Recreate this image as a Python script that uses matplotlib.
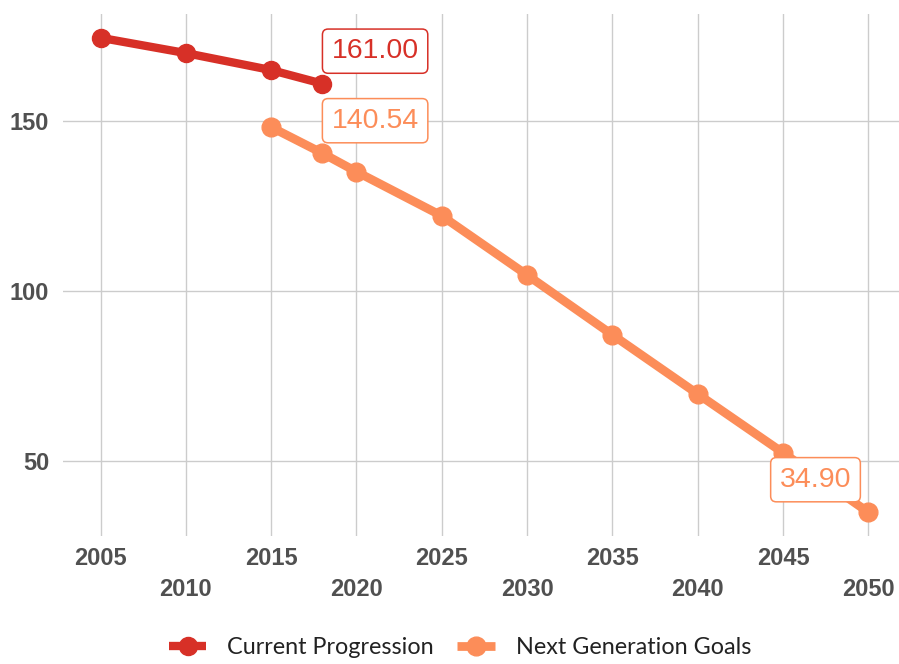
import matplotlib.pyplot as plt
from matplotlib.ticker import FixedLocator

# data
years_current = [2005, 2010, 2015, 2018]
current = [174.5, 170.0, 165.0, 161.00]
years_goals = [2015, 2018, 2020, 2025, 2030, 2035, 2040, 2045, 2050]
goals = [148.2, 140.54, 135.1, 122.1, 104.7, 87.1, 69.7, 52.4, 34.90]

upper_ticks = [2005, 2015, 2025, 2035, 2045]
lower_ticks = [2010, 2020, 2030, 2040, 2050]
y_ticks = [50, 100, 150]

red = "#d73027"
orange = "#fc8d59"

fig = plt.figure(figsize=(8.99, 6.64), dpi=100)
ax = fig.add_axes([63 / 899, 1 - 536 / 664, 1 - 63 / 899, (536 - 14) / 664])

ax.plot(years_goals, goals, color=orange, lw=6.3, marker="o", ms=13.5,
        solid_capstyle="butt", label="Next Generation Goals", zorder=3)
ax.plot(years_current, current, color=red, lw=6, marker="o", ms=13,
        solid_capstyle="butt", label="Current Progression", zorder=4)

# value boxes
def tag(x, y, dx, color):
    ax.annotate(f"{y:.2f}", (x, y), xytext=(dx, 23.4), textcoords="offset points",
                ha="center", va="center", fontsize=20.5, color=color,
                family="Liberation Sans", zorder=6,
                bbox=dict(boxstyle="round,pad=0.32,rounding_size=0.2",
                          fc="white", ec=color, lw=1.1))

tag(years_current[-1], current[-1], 38, red)
tag(years_goals[1], goals[1], 38, orange)
tag(years_goals[-1], goals[-1], -38, orange)

ax.set_xlim(2002.8, 2051.8)
ax.set_ylim(27.9, 181.5)

ax.xaxis.set_major_locator(FixedLocator(upper_ticks))
ax.xaxis.set_minor_locator(FixedLocator(lower_ticks))
ax.set_xticklabels([str(t) for t in upper_ticks])
ax.set_xticklabels([str(t) for t in lower_ticks], minor=True)
ax.set_yticks(y_ticks)

ax.tick_params(axis="x", which="major", length=0, pad=8)
ax.tick_params(axis="x", which="minor", length=0, pad=30)
ax.tick_params(axis="y", length=0, pad=10)
for lab in ax.get_xticklabels() + ax.get_xticklabels(minor=True) + ax.get_yticklabels():
    lab.set_fontsize(17)
    lab.set_fontweight("bold")
    lab.set_color("#505050")
    lab.set_family("Liberation Sans")

ax.grid(True, which="both", color="#cccccc", lw=1)
ax.set_axisbelow(True)
for s in ax.spines.values():
    s.set_visible(False)

handles, labels = ax.get_legend_handles_labels()
fig.legend(handles[::-1], labels[::-1], loc="center", ncol=2,
           bbox_to_anchor=(460 / 899, 1 - 648 / 664), frameon=False,
           prop={"family": "Lato", "size": 16.8}, handlelength=1.6,
           handletextpad=0.9, columnspacing=1.0, labelcolor="#222222")

fig.savefig("out.png", dpi=100)
